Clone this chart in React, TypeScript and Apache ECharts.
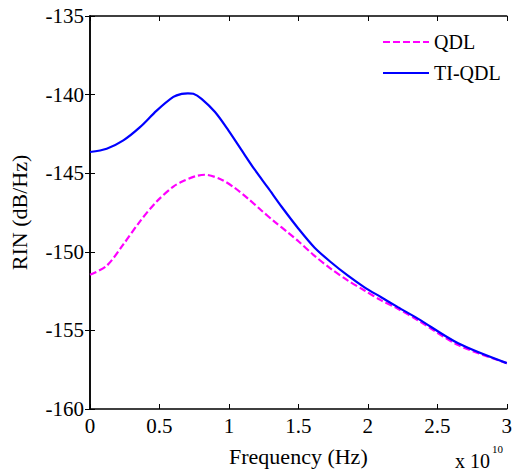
import React, { useEffect, useRef } from "react";
import * as echarts from "echarts";

const qdlFreq = [0, 0.12, 0.24, 0.36, 0.48, 0.6, 0.66, 0.755, 0.827, 0.947, 1.042, 1.138, 1.234, 1.33, 1.425, 1.498, 1.617, 1.737, 1.857, 1.976, 2.096, 2.216, 2.36, 2.65, 3.0];
const qdlRin = [-151.46, -150.89, -149.53, -148.06, -146.8, -145.85, -145.55, -145.2, -145.1, -145.41, -145.94, -146.62, -147.37, -148.1, -148.77, -149.31, -150.26, -151.1, -151.83, -152.46, -153.09, -153.62, -154.35, -155.93, -157.08];

const tiFreq = [0, 0.12, 0.24, 0.36, 0.48, 0.6, 0.66, 0.705, 0.744, 0.803, 0.9, 0.995, 1.09, 1.186, 1.282, 1.378, 1.498, 1.617, 1.737, 1.857, 1.976, 2.096, 2.216, 2.36, 2.65, 3.0];
const tiRin = [-143.65, -143.44, -142.91, -142.07, -141.02, -140.15, -139.95, -139.92, -139.95, -140.27, -141.11, -142.26, -143.52, -144.78, -145.94, -147.12, -148.5, -149.74, -150.68, -151.52, -152.26, -152.89, -153.52, -154.25, -155.82, -157.08];

const legendNames = ["QDL", "TI-QDL"];
const FONT = "'Liberation Serif', 'Times New Roman', 'DejaVu Serif', serif";

export default function App() {
  const ref = useRef<HTMLDivElement>(null);
  useEffect(() => {
    if (!ref.current) return;
    const chart = echarts.init(ref.current, null, { renderer: "svg" });
    const axisText = { color: "#000", fontFamily: FONT, fontSize: 21 };
    const hidden = { show: false };
    const tick = { show: true, inside: true, length: 5, lineStyle: { color: "#000", width: 1 } };
    const line = { show: true, lineStyle: { color: "#000", width: 1.5 } };
    chart.setOption({
      animation: false,
      backgroundColor: "#fff",
      grid: { left: 88, top: 16, right: 8, bottom: 59, containLabel: false },
      legend: {
        left: 377,
        top: 27,
        orient: "vertical",
        itemWidth: 46,
        itemHeight: 14,
        itemGap: 11,
        itemStyle: { opacity: 0 },
        textStyle: { color: "#000", fontFamily: FONT, fontSize: 20, padding: [0, 0, 0, 0] },
        data: legendNames,
      },
      xAxis: [
        {
          type: "value",
          min: 0,
          max: 3,
          interval: 0.5,
          name: "Frequency (Hz)",
          nameLocation: "middle",
          nameGap: 36,
          nameTextStyle: { ...axisText, fontSize: 22 },
          axisLine: line,
          axisTick: tick,
          axisLabel: { ...axisText, margin: 6, formatter: (v: number) => String(v) },
          splitLine: hidden,
        },
        {
          type: "value",
          position: "top",
          min: 0,
          max: 3,
          interval: 0.5,
          axisLine: line,
          axisTick: tick,
          axisLabel: hidden,
          splitLine: hidden,
        },
      ],
      yAxis: [
        {
          type: "value",
          min: -160,
          max: -135,
          interval: 5,
          name: "RIN (dB/Hz)",
          nameLocation: "middle",
          nameGap: 60,
          nameTextStyle: { ...axisText, fontSize: 22 },
          axisLine: line,
          axisTick: tick,
          axisLabel: { ...axisText, margin: 6 },
          splitLine: hidden,
        },
        {
          type: "value",
          position: "right",
          min: -160,
          max: -135,
          interval: 5,
          axisLine: line,
          axisTick: tick,
          axisLabel: hidden,
          splitLine: hidden,
        },
      ],
      series: [
        {
          name: legendNames[0],
          type: "line",
          smooth: 0.3,
          symbol: "none",
          color: "#ff00ff",
          lineStyle: { color: "#ff00ff", width: 2.2, type: [7, 3] },
          data: qdlFreq.map((f, i) => [f, qdlRin[i]]),
        },
        {
          name: legendNames[1],
          type: "line",
          smooth: 0.3,
          symbol: "none",
          color: "#0000ff",
          lineStyle: { color: "#0000ff", width: 2.2 },
          data: tiFreq.map((f, i) => [f, tiRin[i]]),
        },
      ],
      graphic: [
        {
          type: "text",
          left: 455,
          top: 451,
          style: { text: "x 10", fill: "#000", font: `20px ${FONT}` },
        },
        {
          type: "text",
          left: 492,
          top: 443,
          style: { text: "10", fill: "#000", font: `11px ${FONT}` },
        },
      ],
    });
    return () => chart.dispose();
  }, []);
  return (
    <div
      ref={ref}
      style={{ position: "fixed", left: 0, top: 0, width: 515, height: 472 }}
    />
  );
}
